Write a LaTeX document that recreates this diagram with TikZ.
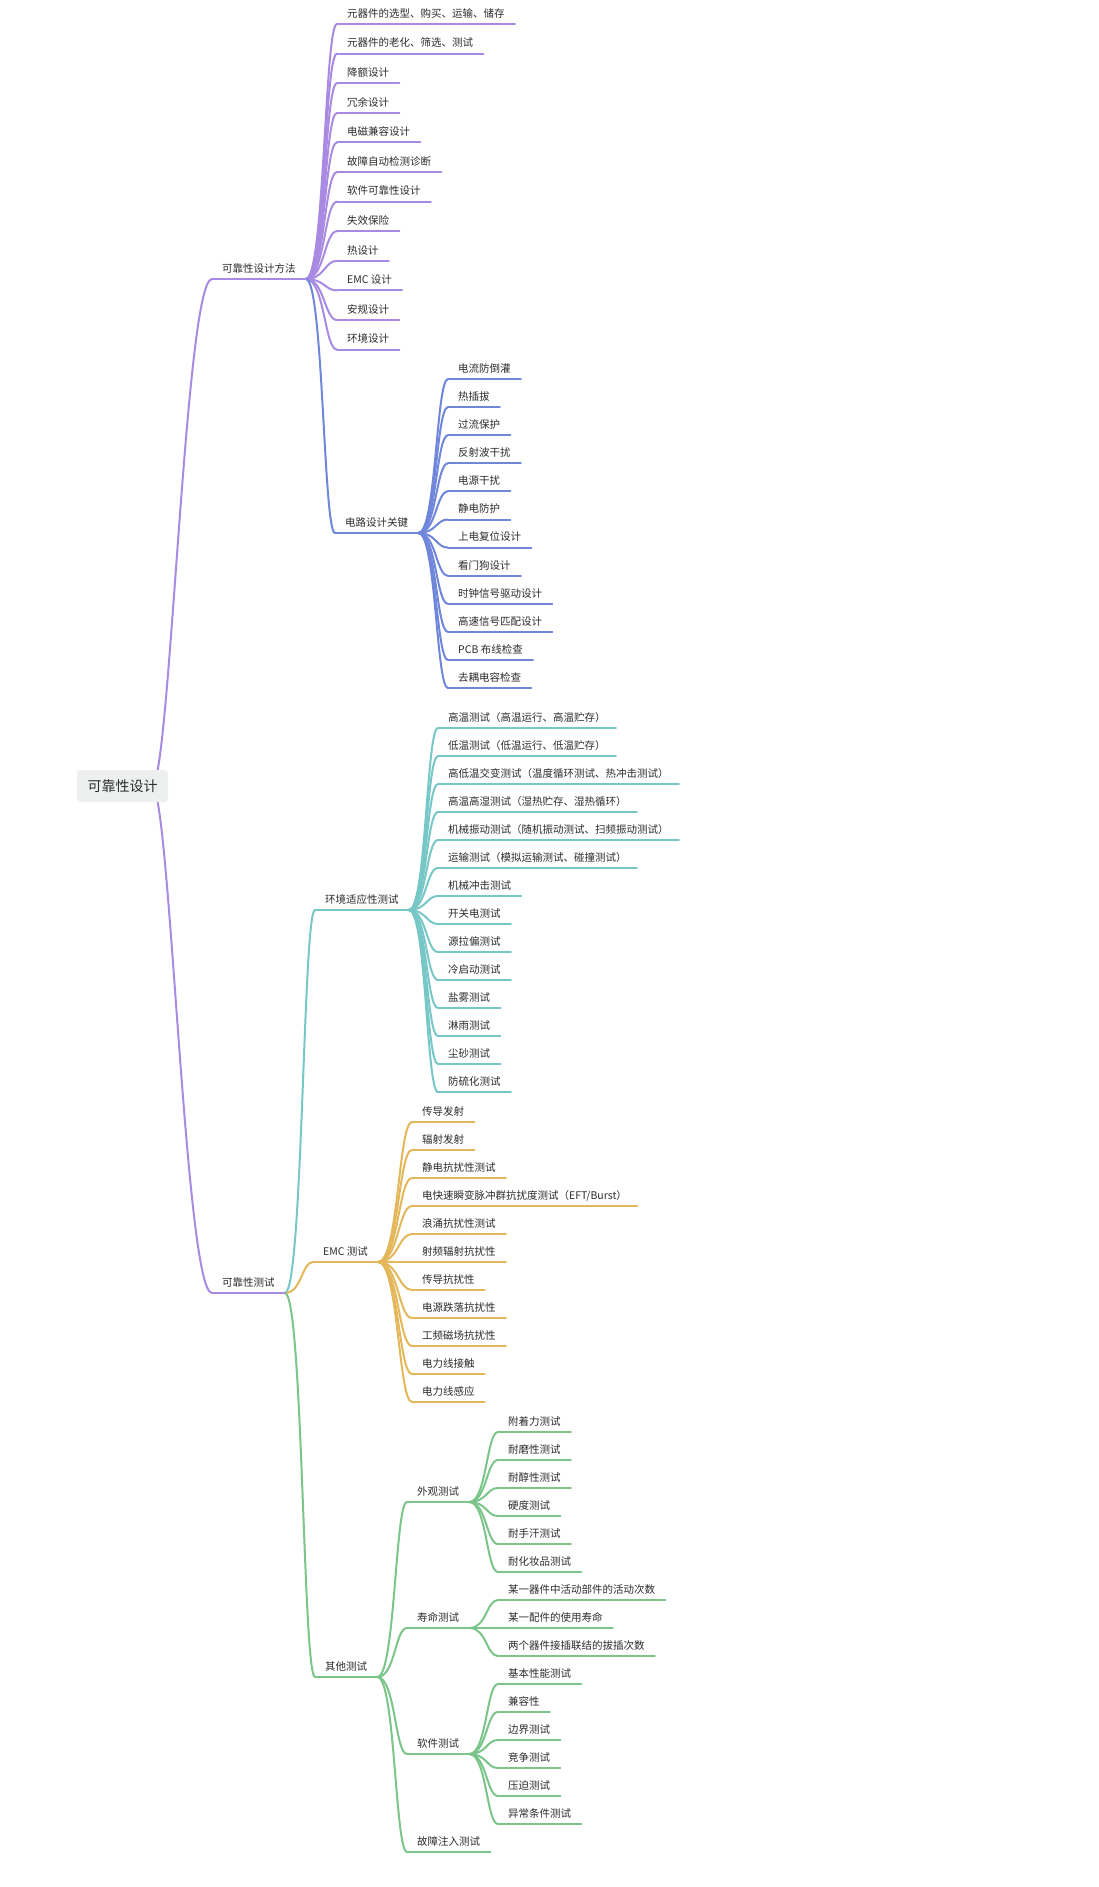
\documentclass[tikz,border=0pt]{standalone}
\usepackage{fontspec}
\setmainfont{Noto Sans CJK SC}
\usetikzlibrary{calc,backgrounds}
\definecolor{cpur}{HTML}{A98AE2}
\definecolor{cblu}{HTML}{6F86DB}
\definecolor{ctea}{HTML}{76C7C6}
\definecolor{cyel}{HTML}{E3B75A}
\definecolor{cgre}{HTML}{7BC48A}
\definecolor{txt}{HTML}{2B2B2B}
\definecolor{rootbg}{HTML}{EEF0F0}
\tikzset{
  topic/.style={anchor=south west, inner xsep=10pt, inner ysep=6.5pt, text depth=0pt, text height=8pt, text=txt,
    font=\fontsize{10.5pt}{12pt}\selectfont,
    append after command={(\tikzlastnode.south west) edge[draw=#1, line width=2pt, line cap=round] (\tikzlastnode.south east)}},
  conn/.style={draw=#1, line width=2pt, line cap=round},
  rootbox/.style={fill=rootbg, rounded corners=3pt, minimum width=91pt, minimum height=32pt, text=txt, inner sep=0pt,
    font=\fontsize{14pt}{16pt}\selectfont}
}
\newcommand\lnk[3]{\draw[conn=#1] let \p1=(#2.south east), \p2=(#3.south west), \n1={\x2-\x1} in
  (\p1) .. controls +({0.6*\n1},0) and +({-0.4*\n1},0) .. (\p2);}
\begin{document}
\begin{tikzpicture}[x=1pt,y=-1pt]
\useasboundingbox (0,0) rectangle (1098,1887);
% root
\node[rootbox] (root) at (122.5,786) {可靠性设计};
\coordinate (rj) at (152,786);
% level 1
\node[topic=cpur] (m) at (212,279) {可靠性设计方法};
\node[topic=cpur] (t) at (212,1293) {可靠性测试};
% children of m
\foreach [count=\i] \s in {元器件的选型、购买、运输、储存, 元器件的老化、筛选、测试, 降额设计, 冗余设计, 电磁兼容设计, 故障自动检测诊断, 软件可靠性设计, 失效保险, 热设计, EMC 设计, 安规设计, 环境设计}
  \node[topic=cpur] (a\i) at (337,{24+29.6*(\i-1)}) {\s};
\node[topic=cblu] (b) at (335,533) {电路设计关键};
\foreach [count=\i] \s in {电流防倒灌, 热插拔, 过流保护, 反射波干扰, 电源干扰, 静电防护, 上电复位设计, 看门狗设计, 时钟信号驱动设计, 高速信号匹配设计, PCB 布线检查, 去耦电容检查}
  \node[topic=cblu] (b\i) at (448,{379+28.1*(\i-1)}) {\s};
% children of t
\node[topic=ctea] (c) at (315,910) {环境适应性测试};
\foreach [count=\i] \s in {高温测试（高温运行、高温贮存）, 低温测试（低温运行、低温贮存）, 高低温交变测试（温度循环测试、热冲击测试）, 高温高湿测试（湿热贮存、湿热循环）, 机械振动测试（随机振动测试、扫频振动测试）, 运输测试（模拟运输测试、碰撞测试）, 机械冲击测试, 开关电测试, 源拉偏测试, 冷启动测试, 盐雾测试, 淋雨测试, 尘砂测试, 防硫化测试}
  \node[topic=ctea] (c\i) at (438,{728+28*(\i-1)}) {\s};
\node[topic=cyel] (d) at (313,1262) {EMC 测试};
\foreach [count=\i] \s in {传导发射, 辐射发射, 静电抗扰性测试, 电快速瞬变脉冲群抗扰度测试（EFT/Burst）, 浪涌抗扰性测试, 射频辐射抗扰性, 传导抗扰性, 电源跌落抗扰性, 工频磁场抗扰性, 电力线接触, 电力线感应}
  \node[topic=cyel] (d\i) at (412,{1122+28*(\i-1)}) {\s};
\node[topic=cgre] (e) at (315,1677) {其他测试};
\node[topic=cgre] (e1) at (407,1502) {外观测试};
\node[topic=cgre] (e2) at (407,1628) {寿命测试};
\node[topic=cgre] (e3) at (407,1754) {软件测试};
\node[topic=cgre] (e4) at (407,1852) {故障注入测试};
\foreach [count=\i] \s in {附着力测试, 耐磨性测试, 耐醇性测试, 硬度测试, 耐手汗测试, 耐化妆品测试}
  \node[topic=cgre] (f\i) at (498,{1432+28*(\i-1)}) {\s};
\foreach [count=\i] \s in {某一器件中活动部件的活动次数, 某一配件的使用寿命, 两个器件接插联结的拔插次数}
  \node[topic=cgre] (g\i) at (498,{1600+28*(\i-1)}) {\s};
\foreach [count=\i] \s in {基本性能测试, 兼容性, 边界测试, 竞争测试, 压迫测试, 异常条件测试}
  \node[topic=cgre] (h\i) at (498,{1684+28*(\i-1)}) {\s};
% connectors
\begin{scope}[on background layer]
\draw[conn=cpur] (rj) .. controls +(18,0) and +(-27,0) .. (m.south west);
\draw[conn=cpur] (rj) .. controls +(18,0) and +(-27,0) .. (t.south west);
\foreach \i in {1,...,12} {\lnk{cpur}{m}{a\i}}
\lnk{cblu}{m}{b}
\foreach \i in {1,...,12} {\lnk{cblu}{b}{b\i}}
\lnk{ctea}{t}{c}
\lnk{cyel}{t}{d}
\lnk{cgre}{t}{e}
\foreach \i in {1,...,14} {\lnk{ctea}{c}{c\i}}
\foreach \i in {1,...,11} {\lnk{cyel}{d}{d\i}}
\foreach \i in {1,...,4} {\lnk{cgre}{e}{e\i}}
\foreach \i in {1,...,6} {\lnk{cgre}{e1}{f\i}}
\foreach \i in {1,...,3} {\lnk{cgre}{e2}{g\i}}
\foreach \i in {1,...,6} {\lnk{cgre}{e3}{h\i}}
\end{scope}
\end{tikzpicture}
\end{document}
